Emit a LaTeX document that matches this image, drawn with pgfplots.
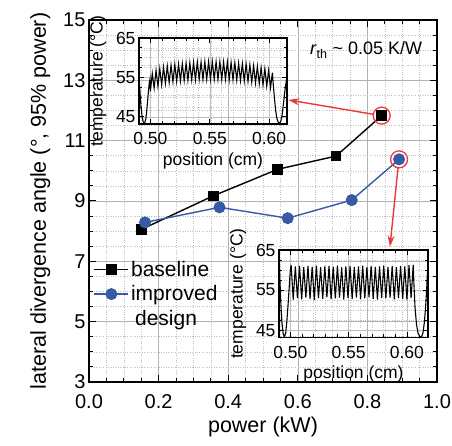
\documentclass[border=0pt]{standalone}
\usepackage{fontspec}
\setmainfont{Liberation Sans}
\usepackage{pgfplots}
\pgfplotsset{compat=1.18}
\usetikzlibrary{arrows.meta}
\definecolor{myblue}{RGB}{55,90,165}
\definecolor{myred}{RGB}{232,58,58}
\begin{document}
\begin{tikzpicture}
\path[use as bounding box] (-89pt,-64pt) rectangle (363pt,382pt);
\begin{axis}[
  at={(0pt,0pt)}, anchor=south west,
  scale only axis, width=348pt, height=362pt,
  xmin=0, xmax=1, ymin=3, ymax=15,
  xtick={0,0.2,0.4,0.6,0.8,1.0}, ytick={3,5,7,9,11,13,15},
  minor x tick num=3, minor y tick num=3,
  xticklabel style={/pgf/number format/.cd, fixed, fixed zerofill, precision=1},
  xticklabel shift=9pt,
  /pgf/number format/assume math mode=true,
  grid=both,
  major grid style={gray!60, line width=0.6pt},
  minor grid style={gray!50, dotted, line width=0.6pt},
  tick align=inside, major tick length=7pt, minor tick length=4pt,
  every tick/.style={black, line width=1pt},
  axis line style={line width=1.3pt},
  tick label style={font=\fontsize{20}{24}\selectfont},
  label style={font=\fontsize{21.5}{26}\selectfont},
  xlabel={power (kW)},
  xlabel style={yshift=-1pt},
  ylabel={lateral divergence angle (°, 95\% power)},
  ylabel style={yshift=6pt},
  legend style={draw=none, fill=none, at={(rel axis cs:0.01,0.343)}, anchor=north west,
    font=\fontsize{21}{25}\selectfont, row sep=4pt, inner sep=1pt},
  legend cell align=left,
  legend image code/.code={\draw[mark repeat=2,mark phase=2,#1] plot coordinates {(0pt,0pt)(17pt,0pt)(34pt,0pt)};},
]
\addplot[black, line width=1.4pt, mark=square*, mark size=4.6pt] coordinates {
 (0.151,8.06) (0.357,9.17) (0.542,10.05) (0.710,10.49) (0.841,11.83)};
\addlegendentry{baseline}
\addplot[myblue, line width=1.4pt, mark=*, mark size=5.3pt, mark options={fill=myblue}] coordinates {
 (0.161,8.29) (0.375,8.79) (0.571,8.43) (0.755,9.03) (0.891,10.38)};
\addlegendentry{improved}
\addlegendimage{empty legend}
\addlegendentry{\hspace*{4pt}design}
\addplot[myred, only marks, mark=o, mark size=8.5pt, line width=1.3pt, forget plot] coordinates {(0.841,11.83) (0.891,10.38)};
\draw[myred, line width=1.4pt, -{Stealth[length=11pt,width=7pt]}] (axis cs:0.817,11.874) -- (axis cs:0.5727,12.35);
\draw[myred, line width=1.4pt, -{Stealth[length=11pt,width=7pt]}] (axis cs:0.888,10.10) -- (axis cs:0.8649,7.486);
\node[anchor=base east, font=\fontsize{18}{22}\selectfont, inner sep=0pt] at (axis cs:0.958,13.84) {\textit{r}\textsubscript{th} \textasciitilde{} 0.05 K/W};
\end{axis}

\begin{axis}[
  at={(50pt,258pt)}, anchor=south west,
  scale only axis, width=148pt, height=86pt,
  xmin=0.4904, xmax=0.615, ymin=43.2, ymax=65,
  xtick={0.50,0.55,0.60}, ytick={45,55,65},
  minor x tick num=4, minor y tick num=3,
  xticklabel style={/pgf/number format/.cd, fixed, fixed zerofill, precision=2},
  xticklabel shift=5pt,
  /pgf/number format/assume math mode=true,
  grid=both,
  major grid style={gray!50, line width=0.5pt},
  minor grid style={gray!45, dotted, line width=0.5pt},
  tick align=inside, major tick length=5pt, minor tick length=3pt,
  every tick/.style={black, line width=0.8pt},
  axis line style={line width=1.1pt},
  tick label style={font=\fontsize{17.5}{21}\selectfont},
  label style={font=\fontsize{17.5}{21}\selectfont},
  xlabel={position (cm)}, ylabel={temperature (°C)},
  xlabel style={yshift=-1pt}, ylabel style={yshift=3pt},
]
\addplot[black, line width=1.1pt] coordinates {
(0.4904,55.0)(0.4912,51.5)(0.4920,48.0)(0.4930,45.0)(0.4940,43.7)(0.4952,43.5)(0.4962,44.5)(0.4972,47.5)(0.4982,51.0)(0.4990,53.5)(0.4996,54.5)
(0.50000,51.5)(0.50158,56.0)(0.50316,52.3)(0.50474,56.8)(0.50632,52.8)(0.50790,57.2)(0.50948,53.2)(0.51106,57.6)(0.51264,53.5)(0.51422,57.9)
(0.51580,53.7)(0.51738,58.1)(0.51896,53.9)(0.52054,58.3)(0.52212,54.0)(0.52370,58.4)(0.52528,54.1)(0.52686,58.5)(0.52844,54.2)(0.53002,58.6)
(0.53160,54.3)(0.53318,58.7)(0.53476,54.4)(0.53634,58.8)(0.53792,54.4)(0.53950,58.9)(0.54108,54.5)(0.54266,58.9)(0.54424,54.5)(0.54582,59.0)
(0.54740,54.5)(0.54898,59.0)(0.55056,54.5)(0.55214,59.0)(0.55372,54.5)(0.55530,59.0)(0.55688,54.5)(0.55846,59.0)(0.56004,54.5)(0.56162,58.9)
(0.56320,54.5)(0.56478,58.9)(0.56636,54.4)(0.56794,58.8)(0.56952,54.4)(0.57110,58.7)(0.57268,54.3)(0.57426,58.6)(0.57584,54.2)(0.57742,58.5)
(0.57900,54.1)(0.58058,58.4)(0.58216,54.0)(0.58374,58.2)(0.58532,53.8)(0.58690,58.0)(0.58848,53.6)(0.59006,57.8)(0.59164,53.4)(0.59322,57.5)
(0.59480,53.1)(0.59638,57.2)(0.59796,52.8)(0.59954,56.8)(0.60112,52.4)(0.60270,56.2)
(0.6035,53.0)(0.6045,49.5)(0.6055,46.5)(0.6065,44.6)(0.6077,43.6)(0.6087,43.4)(0.6097,43.8)(0.6108,45.3)(0.6120,48.3)(0.6133,51.8)(0.6145,54.3)(0.6150,55.0)
};
\end{axis}

\begin{axis}[
  at={(190pt,44.7pt)}, anchor=south west,
  scale only axis, width=149pt, height=87.3pt,
  xmin=0.4902, xmax=0.6181, ymin=43.2, ymax=65,
  xtick={0.50,0.55,0.60}, ytick={45,55,65},
  minor x tick num=4, minor y tick num=3,
  xticklabel style={/pgf/number format/.cd, fixed, fixed zerofill, precision=2},
  xticklabel shift=5pt,
  /pgf/number format/assume math mode=true,
  grid=both,
  major grid style={gray!50, line width=0.5pt},
  minor grid style={gray!45, dotted, line width=0.5pt},
  tick align=inside, major tick length=5pt, minor tick length=3pt,
  every tick/.style={black, line width=0.8pt},
  axis line style={line width=1.1pt},
  tick label style={font=\fontsize{17.5}{21}\selectfont},
  label style={font=\fontsize{17.5}{21}\selectfont},
  xlabel={position (cm)}, ylabel={temperature (°C)},
  xlabel style={yshift=-1pt}, ylabel style={yshift=3pt},
]
\addplot[black, line width=1.1pt] coordinates {
(0.4902,64.5)(0.4910,57.5)(0.4918,51.5)(0.4927,47.0)(0.4937,44.2)(0.4948,43.3)(0.4959,44.2)(0.4969,47.0)(0.4979,51.0)(0.4989,55.5)(0.4998,59.5)
(0.50060,61.3)(0.50241,52.6)(0.50421,60.9)(0.50602,53.0)(0.50783,61.0)(0.50964,52.7)(0.51144,60.7)(0.51325,53.1)(0.51506,61.0)(0.51686,52.8)
(0.51867,60.8)(0.52048,52.5)(0.52228,61.1)(0.52409,53.0)(0.52590,60.7)(0.52771,52.8)(0.52951,60.9)(0.53132,53.2)(0.53313,61.0)(0.53493,52.7)
(0.53674,60.8)(0.53855,52.9)(0.54035,61.1)(0.54216,53.1)(0.54397,60.7)(0.54578,52.6)(0.54758,60.9)(0.54939,53.0)(0.55120,61.0)(0.55300,52.8)
(0.55481,60.8)(0.55662,53.1)(0.55842,60.9)(0.56023,52.7)(0.56204,61.1)(0.56385,52.9)(0.56565,60.7)(0.56746,53.2)(0.56927,61.0)(0.57107,52.8)
(0.57288,60.8)(0.57469,52.6)(0.57649,60.9)(0.57830,53.0)(0.58011,61.1)(0.58192,52.9)(0.58372,60.8)(0.58553,53.1)(0.58734,61.0)(0.58914,52.7)
(0.59095,60.7)(0.59276,53.0)(0.59456,61.0)(0.59637,52.8)(0.59818,60.9)(0.59999,52.6)(0.60179,61.2)(0.60360,53.0)(0.60541,61.3)
(0.6060,56.5)(0.6070,50.5)(0.6082,46.5)(0.6095,44.3)(0.6110,43.4)(0.6125,43.3)(0.6138,44.3)(0.6150,47.0)(0.6161,51.0)(0.6170,55.5)(0.6177,60.0)(0.6181,63.0)
};
\end{axis}
\end{tikzpicture}
\end{document}
